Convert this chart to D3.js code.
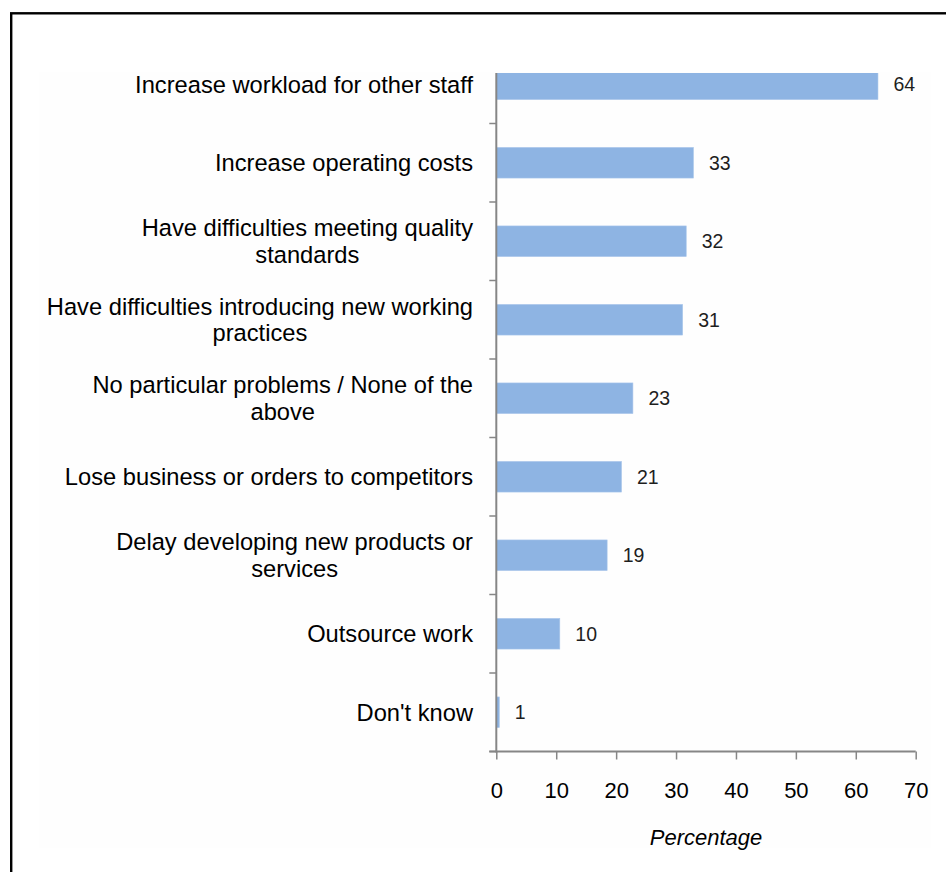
<!DOCTYPE html>
<html>
<head>
<meta charset="utf-8">
<script src="https://cdn.jsdelivr.net/npm/d3@7"></script>
<style>
  html, body { margin: 0; padding: 0; background: #ffffff; }
  svg { display: block; }
  text { font-family: "Liberation Sans", Arial, sans-serif; }
</style>
</head>
<body>
<svg id="chart" width="946" height="872"></svg>
<script>
// ---- data ----
const categories = [
  ["Increase workload for other staff"],
  ["Increase operating costs"],
  ["Have difficulties meeting quality", "standards"],
  ["Have difficulties introducing new working", "practices"],
  ["No particular problems / None of the", "above"],
  ["Lose business or orders to competitors"],
  ["Delay developing new products or", "services"],
  ["Outsource work"],
  ["Don't know"]
];
const values = [63.7, 32.9, 31.7, 31.1, 22.8, 20.9, 18.5, 10.6, 0.5];
const valueLabels = ["64", "33", "32", "31", "23", "21", "19", "10", "1"];
const xTicks = [0, 10, 20, 30, 40, 50, 60, 70];
const xTitle = "Percentage";

// ---- layout ----
const svg = d3.select("#chart");
const plotLeft = 496.3, plotRight = 915.7;
const bandTop = 45, plotBottom = 751.5, plotTop = 73;
const axisColor = "#868686";
const barColor = "#8eb4e3";

// frame and very faint plot-area background
svg.append("rect").attr("x", 39.3).attr("y", 71.7).attr("width", 891.4).attr("height", 776.3)
  .attr("fill", "#fefefe");
svg.append("rect").attr("x", 11.2).attr("y", 13.3).attr("width", 960).attr("height", 900)
  .attr("fill", "none").attr("stroke", "#000").attr("stroke-width", 2.4);

const ids = categories.map((c, i) => i);
const x = d3.scaleLinear().domain([0, 70]).range([plotLeft, plotRight]);
const y = d3.scaleBand().domain(ids).range([bandTop, plotBottom])
  .paddingInner(0.61).paddingOuter(0.305);

// clip for plot area
svg.append("defs").append("clipPath").attr("id", "plotclip")
  .append("rect").attr("x", plotLeft).attr("y", plotTop)
  .attr("width", plotRight - plotLeft + 40).attr("height", plotBottom - plotTop);

// bars
svg.append("g").attr("clip-path", "url(#plotclip)")
  .selectAll("rect").data(values).join("rect")
  .attr("x", x(0))
  .attr("y", (d, i) => y(i))
  .attr("width", d => x(d) - x(0))
  .attr("height", y.bandwidth())
  .attr("fill", barColor)
  .attr("stroke", "#a9c6ea").attr("stroke-width", 0.6);

// value labels
svg.append("g").selectAll("text").data(values).join("text")
  .attr("x", d => x(d) + 15.5)
  .attr("y", (d, i) => y(i) + y.bandwidth() / 2)
  .attr("dy", "0.35em")
  .attr("font-size", 19.5)
  .attr("fill", "#1e1e1e")
  .text((d, i) => valueLabels[i]);

// y axis line and ticks
const yAxisG = svg.append("g");
yAxisG.append("line")
  .attr("x1", plotLeft).attr("x2", plotLeft)
  .attr("y1", plotTop).attr("y2", plotBottom + 1)
  .attr("stroke", axisColor).attr("stroke-width", 2);
const gap = (y.step() - y.bandwidth()) / 2;
const boundaries = ids.slice(1).map(i => y(i) - gap).concat([plotBottom]);
yAxisG.selectAll("line.tick").data(boundaries).join("line")
  .attr("class", "tick")
  .attr("x1", plotLeft - 7).attr("x2", plotLeft)
  .attr("y1", d => d).attr("y2", d => d)
  .attr("stroke", axisColor).attr("stroke-width", 1.5);

// category labels
const labelRight = 473;
const lh = 26.5;
const catG = svg.append("g");
categories.forEach((lines, i) => {
  const cy = y(i) + y.bandwidth() / 2;
  const t = catG.append("text")
    .attr("font-size", 23.7).attr("fill", "#000");
  const spans = lines.map((ln, j) => t.append("tspan")
    .attr("y", cy + 8.4 + (j - (lines.length - 1) / 2) * lh)
    .text(ln));
  const widths = spans.map(s => s.node().getComputedTextLength());
  const maxW = d3.max(widths);
  const mid = labelRight - maxW / 2;
  spans.forEach(s => s.attr("x", mid).attr("text-anchor", "middle"));
});

// x axis
const xAxis = d3.axisBottom(x).tickValues(xTicks).tickSize(8).tickPadding(23)
  .tickFormat(d3.format("d"));
const xg = svg.append("g").attr("transform", `translate(0,${plotBottom})`).call(xAxis);
xg.select(".domain").attr("stroke", axisColor).attr("stroke-width", 2)
  .attr("d", `M${plotLeft - 7},0H${plotRight}`);
xg.selectAll(".tick line").attr("stroke", axisColor).attr("stroke-width", 1.5);
xg.selectAll(".tick text").attr("font-size", 22).attr("fill", "#000")
  .attr("font-family", "'Liberation Sans', Arial, sans-serif");

// x title
svg.append("text")
  .attr("x", (plotLeft + plotRight) / 2)
  .attr("y", 845)
  .attr("text-anchor", "middle")
  .attr("font-size", 22)
  .attr("font-style", "italic")
  .attr("fill", "#000")
  .text(xTitle);
</script>
</body>
</html>
